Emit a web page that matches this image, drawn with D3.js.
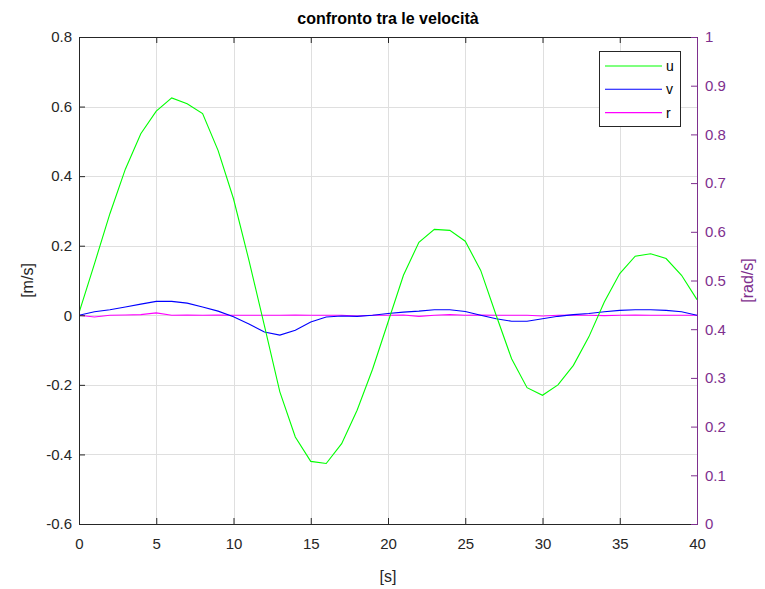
<!DOCTYPE html>
<html>
<head>
<meta charset="utf-8">
<script src="https://cdn.jsdelivr.net/npm/d3@7"></script>
<style>
  body { margin: 0; background: #fff; }
  text { font-family: "Liberation Sans", Arial, sans-serif; }
</style>
</head>
<body>
<div id="chart"></div>
<script>
// time in seconds
const time = d3.range(0, 41);

const uVals = [0.007, 0.148, 0.292, 0.42, 0.522, 0.587, 0.625, 0.608, 0.58, 0.474,
  0.335, 0.158, -0.03, -0.22, -0.35, -0.42, -0.426, -0.369, -0.273, -0.155,
  -0.02, 0.115, 0.21, 0.247, 0.244, 0.213, 0.129, 0.0, -0.125, -0.208,
  -0.23, -0.2, -0.144, -0.062, 0.038, 0.12, 0.17, 0.177, 0.163, 0.115, 0.045];

const vVals = [0.0, 0.01, 0.016, 0.024, 0.032, 0.04, 0.04, 0.035, 0.024, 0.012,
  -0.004, -0.025, -0.048, -0.057, -0.043, -0.019, -0.005, -0.002, -0.003, 0.0,
  0.005, 0.009, 0.012, 0.016, 0.016, 0.011, 0.0, -0.01, -0.017, -0.017,
  -0.01, -0.003, 0.002, 0.005, 0.01, 0.014, 0.016, 0.016, 0.014, 0.01, 0.0];

const rVals = [0.0, -0.005, 0.0, 0.001, 0.002, 0.007, 0.0, 0.001, 0.0, 0.001,
  0.0, 0.0, 0.0, 0.0, 0.001, 0.0, 0.0, 0.0, -0.002, 0.0,
  0.0, 0.001, -0.003, 0.0, 0.002, 0.0, 0.001, 0.0, 0.0, 0.0,
  -0.002, 0.0, 0.001, 0.0, -0.001, 0.0, 0.001, 0.0, 0.0, 0.0, 0.0];

const xTicks = [0, 5, 10, 15, 20, 25, 30, 35, 40];
const yLeftTicks = [-0.6, -0.4, -0.2, 0, 0.2, 0.4, 0.6, 0.8];
const yRightTicks = [0, 0.1, 0.2, 0.3, 0.4, 0.5, 0.6, 0.7, 0.8, 0.9, 1];

const series = [
  { name: "u", values: uVals, color: "#00ff00" },
  { name: "v", values: vVals, color: "#0000ff" },
  { name: "r", values: rVals, color: "#ff00ff" }
];

const width = 765, height = 589;
const margin = { left: 79, right: 697, top: 37, bottom: 524 };
const axisColor = "#262626";
const rightColor = "#7e2f8e";

// matlab style labels: plain hyphen, no trailing zeros
const fmt = d => String(+d.toFixed(1));

const svg = d3.select("#chart").append("svg")
  .attr("width", width)
  .attr("height", height);

const x = d3.scaleLinear().domain([0, 40]).range([margin.left, margin.right]);
const y = d3.scaleLinear().domain([-0.6, 0.8]).range([margin.bottom, margin.top]);
const y2 = d3.scaleLinear().domain([0, 1]).range([margin.bottom, margin.top]);

// grid
const grid = svg.append("g").attr("stroke", "#dfdfdf").attr("stroke-width", 1);
grid.selectAll(".gx").data(xTicks.slice(1, -1)).enter().append("line")
  .attr("x1", d => Math.round(x(d)) + 0.5).attr("x2", d => Math.round(x(d)) + 0.5)
  .attr("y1", margin.top).attr("y2", margin.bottom);
grid.selectAll(".gy").data(yLeftTicks.slice(1, -1)).enter().append("line")
  .attr("y1", d => Math.round(y(d)) + 0.5).attr("y2", d => Math.round(y(d)) + 0.5)
  .attr("x1", margin.left).attr("x2", margin.right);

// lines
const line = d3.line()
  .x((d, i) => x(time[i]))
  .y(d => y(d));

svg.append("defs").append("clipPath").attr("id", "clip")
  .append("rect").attr("x", margin.left).attr("y", margin.top)
  .attr("width", margin.right - margin.left).attr("height", margin.bottom - margin.top);

const plots = svg.append("g").attr("clip-path", "url(#clip)");
[series[2], series[1], series[0]].forEach(s => {
  plots.append("path")
    .datum(s.values)
    .attr("d", line)
    .attr("fill", "none")
    .attr("stroke", s.color)
    .attr("stroke-width", 1.1);
});

// axes
const xAxisTop = svg.append("g")
  .attr("transform", `translate(0,${margin.top})`)
  .call(d3.axisBottom(x).tickValues(xTicks).tickSize(6).tickFormat(""));
xAxisTop.select(".domain").attr("stroke", axisColor);
xAxisTop.selectAll(".tick line").attr("stroke", axisColor);

const xAxis = svg.append("g")
  .attr("transform", `translate(0,${margin.bottom})`)
  .call(d3.axisTop(x).tickValues(xTicks).tickSize(6).tickFormat(fmt));
xAxis.select(".domain").attr("stroke", axisColor);
xAxis.selectAll(".tick line").attr("stroke", axisColor);
xAxis.selectAll(".tick text")
  .attr("y", 25)
  .attr("dy", 0)
  .attr("fill", axisColor)
  .style("font-size", "15px")
  .attr("text-anchor", "middle");

const yAxis = svg.append("g")
  .attr("transform", `translate(${margin.left},0)`)
  .call(d3.axisRight(y).tickValues(yLeftTicks).tickSize(6).tickFormat(fmt));
yAxis.select(".domain").attr("stroke", axisColor);
yAxis.selectAll(".tick line").attr("stroke", axisColor);
yAxis.selectAll(".tick text")
  .attr("x", -7)
  .attr("text-anchor", "end")
  .attr("fill", axisColor)
  .style("font-size", "15px");

const yAxisR = svg.append("g")
  .attr("transform", `translate(${margin.right},0)`)
  .call(d3.axisLeft(y2).tickValues(yRightTicks).tickSize(6).tickFormat(fmt));
yAxisR.select(".domain").attr("stroke", rightColor);
yAxisR.selectAll(".tick line").attr("stroke", rightColor);
yAxisR.selectAll(".tick text")
  .attr("x", 8)
  .attr("text-anchor", "start")
  .attr("fill", rightColor)
  .style("font-size", "15px");

// titles
svg.append("text")
  .attr("x", (margin.left + margin.right) / 2)
  .attr("y", 24)
  .attr("text-anchor", "middle")
  .attr("font-weight", "bold")
  .style("font-size", "16px")
  .attr("fill", "#000")
  .text("confronto tra le velocità");

svg.append("text")
  .attr("x", (margin.left + margin.right) / 2)
  .attr("y", 582)
  .attr("text-anchor", "middle")
  .style("font-size", "16px")
  .attr("fill", axisColor)
  .text("[s]");

svg.append("text")
  .attr("transform", `translate(33,${(margin.top + margin.bottom) / 2}) rotate(-90)`)
  .attr("text-anchor", "middle")
  .style("font-size", "16px")
  .attr("fill", axisColor)
  .text("[m/s]");

svg.append("text")
  .attr("transform", `translate(753,${(margin.top + margin.bottom) / 2}) rotate(-90)`)
  .attr("text-anchor", "middle")
  .style("font-size", "16px")
  .attr("fill", rightColor)
  .text("[rad/s]");

// legend
const legend = svg.append("g");
legend.append("rect")
  .attr("x", 599.5).attr("y", 51.5)
  .attr("width", 81).attr("height", 75)
  .attr("fill", "#fff")
  .attr("stroke", axisColor)
  .attr("stroke-width", 1);

series.forEach((s, i) => {
  const ly = 66 + i * 23.3;
  legend.append("line")
    .attr("x1", 605).attr("x2", 662)
    .attr("y1", ly).attr("y2", ly)
    .attr("stroke", s.color)
    .attr("stroke-width", 1.1);
  legend.append("text")
    .attr("x", 666).attr("y", ly + 5)
    .style("font-size", "14px")
    .attr("fill", "#000")
    .text(s.name);
});
</script>
</body>
</html>
